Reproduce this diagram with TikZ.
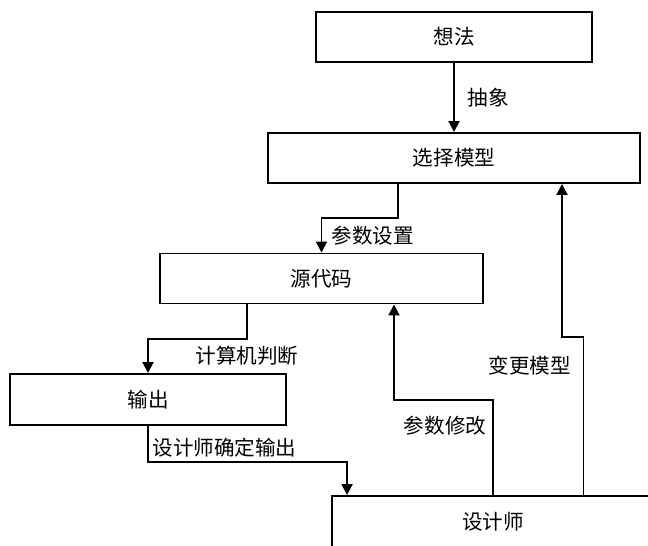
\documentclass[tikz,border=0pt]{standalone}
\usepackage{fontspec}
\usepackage{tikz}
\usetikzlibrary{arrows.meta}
\usetikzlibrary{positioning}
\newfontfamily\cjkfont{Noto Sans CJK SC}

\begin{document}
\begin{tikzpicture}[font=\cjkfont\fontsize{11.7}{14}\selectfont,
                    line width=1.1pt,
                    >={Triangle[length=2.2mm, width=2.2mm]}]

    \useasboundingbox (0,0) rectangle (12.96,10.92);

    % boxes
    \begin{scope}[every node/.style={rectangle, draw, minimum height=1cm, inner sep=0pt}]
        \node[minimum width=5.52cm] (idea) at (9.08,10.18) {想法};
        \node[minimum width=7.44cm] (model) at (9.08,7.76) {选择模型};
        \node[minimum width=6.46cm] (code) at (6.43,5.35) {源代码};
        \node[minimum width=5.52cm, minimum height=1.02cm] (output) at (2.96,2.93) {输出};
        \node[minimum width=6.44cm, minimum height=1.02cm] (designer) at (9.86,0.49) {设计师};
    \end{scope}

    % forward flow
    \draw[->] (idea) -- node[right=4pt] {抽象} (model);
    \draw[->] ([xshift=-1.12cm]model.south) -- ++(0,-0.68)
        -| node[pos=0.75, right=2pt] {参数设置} (code.north);
    \draw[->] ([xshift=-1.49cm]code.south) -- ++(0,-0.7) node[below] {计算机判断}
        -| (output.north);
    \draw[->] (output.south) -- ++(0,-0.72) node[above right, inner sep=2pt] {设计师确定输出}
        -| ([xshift=0.32cm]designer.north west);

    % feedback from the designer
    \draw[->] (designer.north) -- node[pos=0.73, left] {参数修改} ++(0,1.9)
        -| ([xshift=1.45cm]code.south);
    \draw[->] ([xshift=1.81cm]designer.north) -- node[pos=0.82, left=3.4pt] {变更模型} ++(0,3.16)
        -| ([xshift=2.16cm]model.south);

\end{tikzpicture}
\end{document}
